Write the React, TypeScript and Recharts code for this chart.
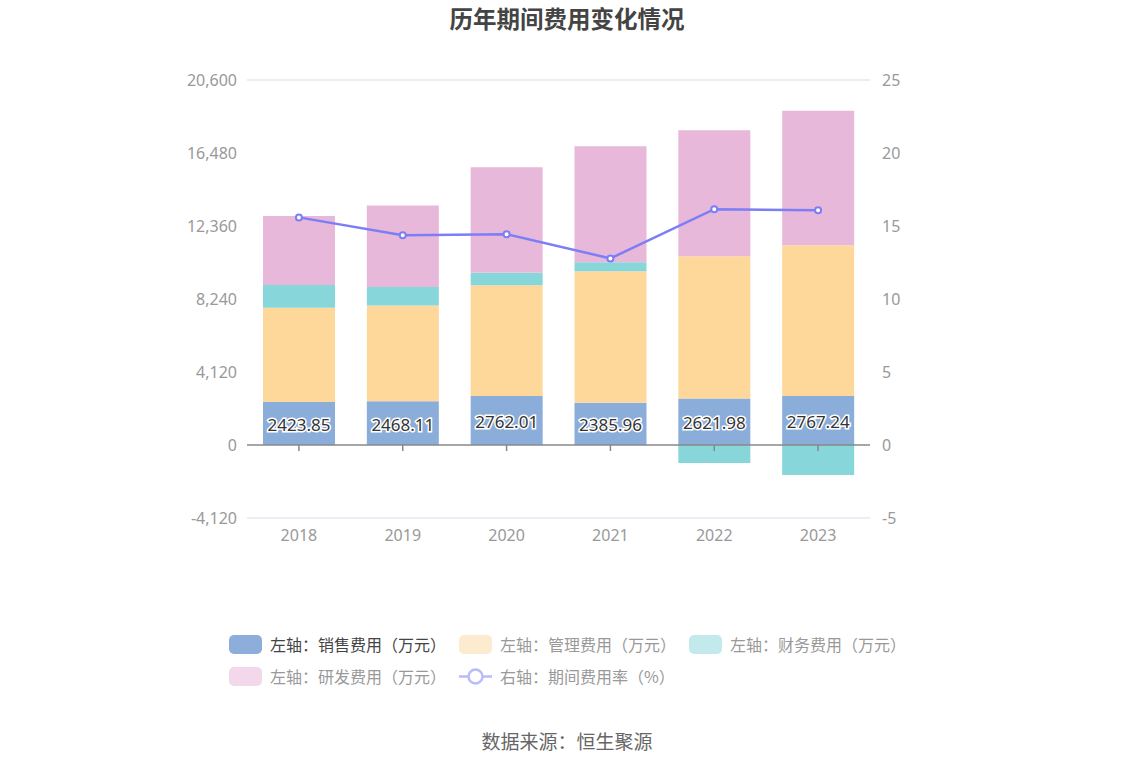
import React from 'react';
import {
  ComposedChart, Bar, Line, XAxis, YAxis, CartesianGrid, ReferenceLine,
  ReferenceDot, LabelList,
} from 'recharts';

const years = ['2018', '2019', '2020', '2021', '2022', '2023'];
const salesExpense = [2423.85, 2468.11, 2762.01, 2385.96, 2621.98, 2767.24];
const adminExpense = [5325, 5411, 6261, 7426, 8036, 8511];
const financeExpense = [1285, 1032, 699, 508, -1015, -1690];
const rdExpense = [3889, 4604, 5952, 6537, 7101, 7592];
const expenseRate = [15.59, 14.37, 14.44, 12.78, 16.15, 16.08];

const leftTicks = [-4120, 0, 4120, 8240, 12360, 16480, 20600];
const rightTicks = [-5, 0, 5, 10, 15, 20, 25];

const seriesNames = [
  '左轴：销售费用（万元）',
  '左轴：管理费用（万元）',
  '左轴：财务费用（万元）',
  '左轴：研发费用（万元）',
  '右轴：期间费用率（%）',
];

const data = years.map((y, i) => ({
  year: y,
  sales: salesExpense[i],
  admin: adminExpense[i],
  finance: financeExpense[i],
  rd: rdExpense[i],
  rate: expenseRate[i],
}));

const FONT = '"Noto Sans CJK SC", "Noto Sans", sans-serif';
const NUMFONT = '"Noto Sans", "Noto Sans CJK SC", sans-serif';

const legendItems = [
  { name: seriesNames[0], color: '#8dadda', text: '#444', type: 'rect' },
  { name: seriesNames[1], color: '#fdebd0', text: '#999', type: 'rect' },
  { name: seriesNames[2], color: '#c2e9eb', text: '#999', type: 'rect' },
  { name: seriesNames[3], color: '#f3d8eb', text: '#999', type: 'rect' },
  { name: seriesNames[4], color: '#b9bbfb', text: '#999', type: 'line' },
];

const renderSalesLabel = (p: any) => {
  const { x, y, width, height, value } = p;
  return (
    <text
      x={x + width / 2}
      y={y + height / 2 + 1}
      textAnchor="middle"
      dominantBaseline="central"
      fill="#333"
      stroke="#fff"
      strokeWidth={3}
      paintOrder="stroke"
      fontSize={17}
      fontFamily={NUMFONT}
    >
      {Number(value).toFixed(2)}
    </text>
  );
};

const tickMark = (p: any) => (
  <line x1={p.cx} y1={p.cy} x2={p.cx} y2={p.cy + 6} stroke="#888" strokeWidth={1.5} />
);

export default function App() {
  return (
    <div style={{ position: 'absolute', left: 0, top: 0, width: 1134, height: 766, background: '#fff', fontFamily: FONT }}>
      <div style={{ position: 'absolute', top: 1, left: 0, width: 1134, textAlign: 'center', fontSize: 23.5, fontWeight: 'bold', color: '#444' }}>
        历年期间费用变化情况
      </div>
      <ComposedChart
        width={1134}
        height={766}
        data={data}
        stackOffset="sign"
        margin={{ top: 80, right: 204, bottom: 218, left: 187 }}
        barSize={72}
      >
        <CartesianGrid vertical={false} stroke="#e6e8f4" strokeWidth={1.5} />
        <XAxis
          dataKey="year"
          height={30}
          axisLine={false}
          tickLine={false}
          tick={{ fill: '#999', fontSize: 16, fontFamily: NUMFONT }}
          tickMargin={6}
        />
        <YAxis
          yAxisId="left"
          width={60}
          domain={[-4120, 20600]}
          ticks={leftTicks}
          interval={0}
          axisLine={false}
          tickLine={false}
          tickFormatter={(v: number) => v.toLocaleString('en-US')}
          tick={{ fill: '#999', fontSize: 16, fontFamily: NUMFONT }}
          tickMargin={4}
        />
        <YAxis
          yAxisId="right"
          orientation="right"
          width={60}
          domain={[-5, 25]}
          ticks={rightTicks}
          interval={0}
          axisLine={false}
          tickLine={false}
          tick={{ fill: '#999', fontSize: 16, fontFamily: NUMFONT }}
          tickMargin={6}
        />
        <Bar yAxisId="left" dataKey="sales" stackId="a" fill="#8badda" isAnimationActive={false}>
          <LabelList dataKey="sales" content={renderSalesLabel} />
        </Bar>
        <Bar yAxisId="left" dataKey="admin" stackId="a" fill="#fed89b" isAnimationActive={false} />
        <Bar yAxisId="left" dataKey="finance" stackId="a" fill="#87d6da" isAnimationActive={false} />
        <Bar yAxisId="left" dataKey="rd" stackId="a" fill="#e7b8d9" isAnimationActive={false} />
        <ReferenceLine yAxisId="left" y={0} stroke="#888" strokeWidth={1.5} />
        {years.map((y) => (
          <ReferenceDot key={y} yAxisId="left" x={y} y={0} shape={tickMark} isFront />
        ))}
        <Line
          yAxisId="right"
          dataKey="rate"
          stroke="#7b7ef6"
          strokeWidth={2.5}
          dot={{ r: 3, fill: '#fff', stroke: '#7b7ef6', strokeWidth: 2 }}
          isAnimationActive={false}
        />
      </ComposedChart>
      <div style={{ position: 'absolute', left: 229, top: 628, width: 700, display: 'flex', flexWrap: 'wrap' }}>
        {legendItems.map((it) => (
          <div key={it.name} style={{ width: 230, height: 32, display: 'flex', alignItems: 'center' }}>
            {it.type === 'rect' ? (
              <div style={{ width: 33, height: 19, borderRadius: 5, background: it.color }} />
            ) : (
              <svg width={33} height={19}>
                <line x1={0} y1={9.5} x2={33} y2={9.5} stroke={it.color} strokeWidth={2.5} />
                <circle cx={16.5} cy={9.5} r={7} fill="#fff" stroke={it.color} strokeWidth={2.5} />
              </svg>
            )}
            <span style={{ marginLeft: 8, fontSize: 16, color: it.text, whiteSpace: 'nowrap' }}>{it.name}</span>
          </div>
        ))}
      </div>
      <div style={{ position: 'absolute', top: 727, left: 0, width: 1134, textAlign: 'center', fontSize: 19, color: '#666' }}>
        数据来源：恒生聚源
      </div>
    </div>
  );
}
